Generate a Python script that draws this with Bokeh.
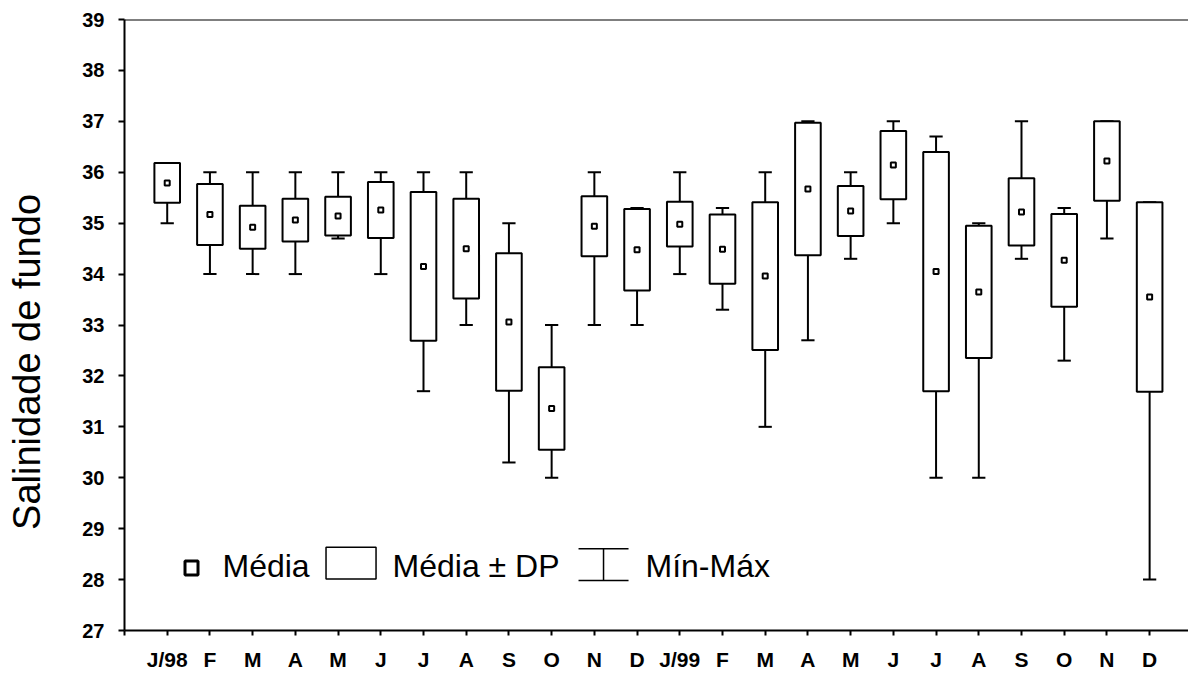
import numpy as np
from bokeh.plotting import figure
from bokeh.models import (ColumnDataSource, Range1d, FixedTicker, Label, BoxAnnotation,
                          Span, Whisker, TeeHead)
from bokeh.embed import file_html
from bokeh.resources import INLINE

# ---- data ----
months = ["J/98", "F", "M", "A", "M", "J", "J", "A", "S", "O", "N", "D",
          "J/99", "F", "M", "A", "M", "J", "J", "A", "S", "O", "N", "D"]
mean = [35.79, 35.17, 34.92, 35.06, 35.14, 35.26, 34.15, 34.50, 33.06, 31.36, 34.94, 34.48,
        34.98, 34.49, 33.96, 35.67, 35.24, 36.14, 34.05, 33.65, 35.22, 34.27, 36.22, 33.55]
sd = [0.39, 0.60, 0.42, 0.42, 0.38, 0.55, 1.46, 0.98, 1.35, 0.81, 0.59, 0.80,
      0.44, 0.68, 1.45, 1.30, 0.49, 0.67, 2.35, 1.30, 0.66, 0.91, 0.78, 1.86]
vmax = [36.1, 36.0, 36.0, 36.0, 36.0, 36.0, 36.0, 36.0, 35.0, 33.0, 36.0, 35.3,
        36.0, 35.3, 36.0, 37.0, 36.0, 37.0, 36.7, 35.0, 37.0, 35.3, 37.0, 35.4]
vmin = [35.0, 34.0, 34.0, 34.0, 34.7, 34.0, 31.7, 33.0, 30.3, 30.0, 33.0, 33.0,
        34.0, 33.3, 31.0, 32.7, 34.3, 35.0, 30.0, 30.0, 34.3, 32.3, 34.7, 28.0]
y_ticks = list(range(27, 40))
y_title = "Salinidade de fundo"

x = np.arange(1, len(months) + 1)
mean_a = np.array(mean)
sd_a = np.array(sd)
top = mean_a + sd_a
bot = mean_a - sd_a
hi = np.maximum(np.array(vmax), top)
lo = np.minimum(np.array(vmin), bot)

BOX_W = 0.60
CAP_W = 0.31

src = ColumnDataSource(dict(
    x=x, mean=mean_a, top=top, bot=bot, hi=hi, lo=lo,
    left=x - BOX_W / 2, right=x + BOX_W / 2,
    cl=x - CAP_W / 2, cr=x + CAP_W / 2,
))

p = figure(width=1188, height=673,
           x_range=Range1d(0, 24.91), y_range=Range1d(27, 39),
           output_backend="svg", toolbar_location=None,
           min_border_left=124, min_border_right=0,
           min_border_top=19, min_border_bottom=42)
p.outline_line_color = None
p.grid.visible = False
p.background_fill_color = "white"

# whiskers
p.segment(x0="x", y0="top", x1="x", y1="hi", source=src, line_color="black", line_width=2)
p.segment(x0="x", y0="bot", x1="x", y1="lo", source=src, line_color="black", line_width=2)
p.segment(x0="cl", y0="hi", x1="cr", y1="hi", source=src, line_color="black", line_width=2)
p.segment(x0="cl", y0="lo", x1="cr", y1="lo", source=src, line_color="black", line_width=2)
# boxes
p.quad(left="left", right="right", top="top", bottom="bot", source=src,
       fill_color="white", line_color="black", line_width=2)
# means
p.scatter(x="x", y="mean", source=src, marker="square", size=5,
          fill_color="white", line_color="black", line_width=2)

# top frame line
p.add_layout(Span(location=39, dimension="width", line_color="black", line_width=2))

# axes
FONT = "Liberation Sans"
xa = p.xaxis[0]
xa.ticker = FixedTicker(ticks=list(range(0, len(months) + 1)))
ov = {0: ""}
for i, m in enumerate(months):
    ov[i + 1] = m
xa.major_label_overrides = ov
xa.major_tick_in = 0
xa.major_tick_out = 5
xa.minor_tick_line_color = None
xa.major_label_standoff = 12
xa.major_label_text_font = FONT
xa.major_label_text_font_style = "bold"
xa.major_label_text_font_size = "21px"
xa.major_label_text_color = "black"
xa.axis_line_width = 2
xa.major_tick_line_width = 2
xa.axis_line_color = "black"

ya = p.yaxis[0]
ya.ticker = FixedTicker(ticks=y_ticks)
ya.major_tick_in = 0
ya.major_tick_out = 6
ya.minor_tick_line_color = None
ya.major_label_standoff = 14
ya.major_label_text_font = FONT
ya.major_label_text_font_style = "bold"
ya.major_label_text_font_size = "20px"
ya.major_label_text_color = "black"
ya.axis_line_width = 2
ya.major_tick_line_width = 2
ya.axis_line_color = "black"
# title shifted downwards with trailing no-break spaces (as in the reference)
ya.axis_label = y_title + "\u00a0" * 7
ya.axis_label_standoff = 31
ya.axis_label_text_font = FONT
ya.axis_label_text_font_style = "normal"
ya.axis_label_text_font_size = "38px"
ya.axis_label_text_color = "black"

# legend (layout positions in data units)
LEG_BASE = 28.275
p.add_layout(BoxAnnotation(left=1.4165, right=1.721, top=28.363, bottom=28.088,
                           fill_color="white", fill_alpha=1, line_color="black",
                           line_alpha=1, line_width=3))
p.add_layout(Label(x=2.2946, y=LEG_BASE, text="Média", text_baseline="alphabetic",
                   text_font=FONT, text_font_size="32px", text_color="black"))
p.add_layout(BoxAnnotation(left=4.718, right=5.889, top=28.637, bottom=28.010,
                           fill_color="white", fill_alpha=1, line_color="black",
                           line_alpha=1, line_width=1.5))
p.add_layout(Label(x=6.275, y=LEG_BASE, text="Média ± DP", text_baseline="alphabetic",
                   text_font=FONT, text_font_size="32px", text_color="black"))
p.add_layout(Whisker(base=11.215, lower=27.98, upper=28.608, dimension="height",
                     line_color="black", line_width=1.5,
                     upper_head=TeeHead(size=50, line_color="black", line_width=1.5),
                     lower_head=TeeHead(size=50, line_color="black", line_width=1.5)))
p.add_layout(Label(x=12.197, y=LEG_BASE, text="Mín-Máx", text_baseline="alphabetic",
                   text_font=FONT, text_font_size="32px", text_color="black"))

open("out.html", "w").write(file_html(p, INLINE))
